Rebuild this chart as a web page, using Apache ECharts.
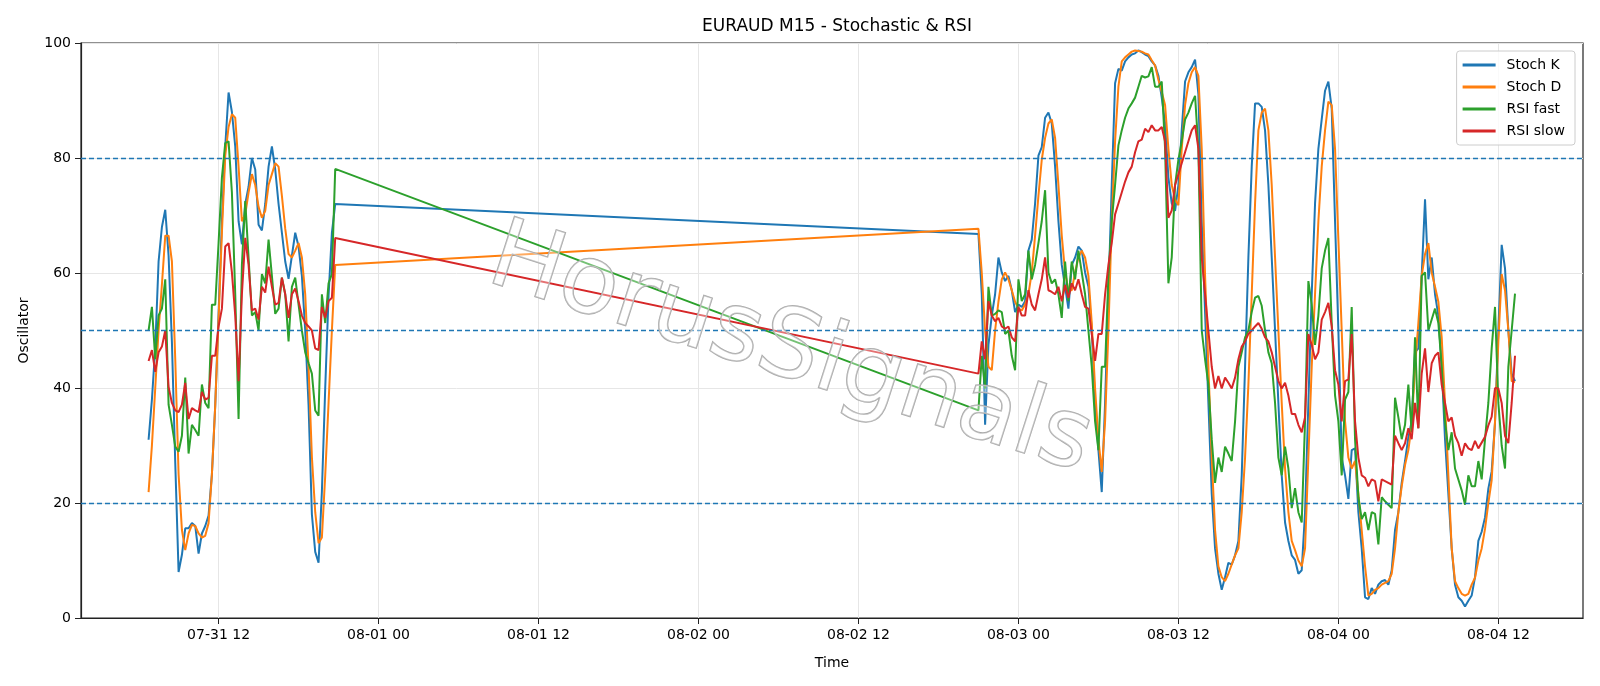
<!DOCTYPE html>
<html><head><meta charset="utf-8">
<script src="https://cdn.jsdelivr.net/npm/echarts@6/dist/echarts.min.js"></script>
<style>html,body{margin:0;padding:0;background:#fff}#c{width:1600px;height:686px}</style>
</head><body><div id="c"></div>
<script>
// Time is given in hours since 07-31 00:00, M15 bars (0.25 h)
const seg1Start = 6.75, seg1Count = 57;
const seg2Start = 69.0, seg2Count = 162;
const tickHours = [12, 24, 36, 48, 60, 72, 84, 96, 108];
const levelLines = [20, 50, 80];

const stochK1 = [31,38,47,62,68,71,63,48,27,8,11,15.6,15.6,16.5,16,11.2,14.7,16,17.8,25,37,53,69,82,91.4,88,82,69,65,72,75,80,78,68.4,67.4,72,78.5,82,78,72,67,62,59,63,67,64.6,59.5,50,37,18,11.5,9.6,22,40,56,67,72];
const stochD1 = [21.9,30,40,50,58,66.5,66.5,62,45,25,15.3,11.8,14.7,16.2,16,14.7,14,14.3,16.5,25,37,52,67,80.4,85.4,87.6,87,78.5,69,70.2,74,77.2,75.3,71.5,69.6,70.8,75.3,77.2,79.1,78.5,73.4,67.7,63.3,62.7,63.9,65.2,62.7,56.3,43.7,28,18.4,13,14,24.8,37.4,50,61.4];
const rsiFast1 = [50,54.1,45,52.6,53.8,58.9,37.1,33.6,29.8,28.9,31.7,41.8,28.6,33.6,32.7,31.7,40.6,37.4,36.5,54.5,54.5,65.2,76.6,82.6,82.9,74,56.3,34.6,61.4,72.5,62.7,52.6,53.2,50,59.8,58.2,65.8,59.5,52.9,53.8,59.2,56.3,48.1,57.6,59.2,54.5,50,46.2,44.3,42.5,36.1,35.2,56.3,51.3,58.2,59.8,78.1];
const rsiSlow1 = [44.7,46.6,42.8,46.2,47.2,50,40.2,37.4,36.1,35.8,37.1,40.9,34.6,36.5,36.1,35.8,39.3,38,38.3,45.6,45.6,50.7,53.8,64.6,65.2,60.1,52.6,41.2,56.3,66.1,61.4,53.5,53.8,51.9,57.6,56.6,61.1,57.6,54.5,54.8,59.2,56.3,52.2,56.3,57.3,55.1,52.6,51.3,50.7,50,46.9,46.6,54.1,52.2,55.1,55.7,66.1];

const stochK2 = [
66.8,56.3,33.6,47.5, 52.6,56.3,62.7,60.1, 58.6,59.5,57,53.2, 54.5,54.1,55.1,63.9,
65.8,72.1,80.4,81.9, 87,87.9,86,78.5, 69,61.4,57.6,53.8, 61.4,62.7,64.6,63.9,
60.1,57.6,50,37.4, 29.2,21.9,37.4,56.3, 75.3,93,95.5,95.2, 96.8,97.5,98,98.2,
98.7,98.4,98,97.7, 96.8,96.1,94.3,90.5, 86,76.6,72.1,70.8, 75.3,84.8,93.3,94.9,
95.8,97.1,91.1,69, 53.2,37.4,21.6,12.1, 7.7,4.9,7.1,9.6, 9.3,10.9,13.4,24.8,
43.7,62.7,78.5,89.5, 89.5,88.9,84.8,75.3, 62.7,50,37.4,24.8, 16.6,13.4,10.9,10.1,
7.7,8.3,18.4,37.4, 56.3,72.1,81.6,86.7, 91.7,93.3,88.6,69, 50,27.9,24.8,20.7,
29.2,29.5,18.4,12.1, 3.6,3.3,5.2,4.2, 5.8,6.4,6.6,5.8, 8.3,15.3,18.4,23.5,
27.3,31.4,34.2,46.2, 46.9,59.5,72.8,58.9, 62.7,56.3,52.6,43.7, 31.1,21.6,12.1,5.8,
3.6,3,2,3, 3.9,7.1,13.4,15, 17.5,22.5,25.5,34, 50,64.9,60.8,50, 42.5,41.2];
const stochD2 = [
67.7,60,50,43.7, 43.1,50,55,58.9, 60.1,58.9,57,55, 53.8,53.5,54.5,56.3,
60.1,66.5,73.4,79.7, 83.5,86,86.7,83.5, 75.3,66.5,60.1,57, 57,60.1,62.7,63.9,
62.7,59.5,51.3,39.9, 31.1,25.4,34.2,50, 69,82.9,92.4,96.8, 97.5,98,98.5,98.7,
98.6,98.5,98.2,98, 97,96.1,93.6,91.5, 89.2,81.6,75.3,72.8, 71.8,81.6,89.2,93,
94.9,95.8,94.3,81.6, 59.5,43.7,27.9,15.3, 9,7.1,6.4,7.7, 9.3,10.9,12.1,18.4,
27.9,40.6,56.3,72.1, 84.8,87.9,88.6,84.8, 75.3,62.7,50,37.4, 26,18.4,13.4,11.8,
10,9,12.1,27.9, 43.7,56.3,69,78.5, 84.8,89.8,89.2,81.6, 65.8,50,34.2,27.9,
26,27.3,21.6,15.3, 9,3.9,4.2,4.9, 5.2,5.8,6.1,6.4, 7.7,12.1,18.4,22.9,
26.6,29.2,33.6,43.7, 51.3,59.5,63.3,65.2, 60.1,57.6,55,48.8, 37.4,24.8,12.1,6.4,
5.2,4.2,3.9,4.2, 5.8,7,10,12.1, 15.5,20,24,34.2, 48,59.8,57,50, 41.2,41];
const rsiFast2 = [
36.1,45.6,39.9,57.6, 52.6,52.9,53.5,53.2, 49.4,50,45.6,43.1, 58.9,55.1,56.3,63.9,
58.9,61.4,65.2,69, 74.4,60.1,58.2,58.9, 56.3,52.2,62,55.1, 62,58.9,63.9,60.1,
56.3,50,43.7,34.2, 29.2,43.7,43.7,59.5, 69,75.3,82.2,84.8, 87,88.6,89.5,90.5,
92.4,94.3,94,94.2, 95.8,92.4,92.4,93.3, 81.6,58.2,62.7,75.3, 79.7,82.9,86.7,87.9,
89.5,90.8,81.6,50, 45,40.6,31.1,23.5, 27.9,25.4,29.8,28.6, 27.3,34.2,43.7,46.2,
48.8,50,53.2,55.7, 56,54.3,50,46.2, 44.3,37.4,27.9,24.8, 29.8,26,19.1,22.6,
18.4,16.6,34.2,58.6, 54.5,47.5,52.6,60.8, 63.9,66.1,51.3,38.7, 34.2,24.8,38,39.3,
54.1,31.1,21,17.2, 18.4,15.3,18.4,18.1, 12.8,21,20.3,19.7, 19.1,38.3,34.9,31.1,
33.6,40.6,32.3,48.8, 33,59.5,60.1,50, 51.9,53.8,51.3,43.7, 34.2,29.2,32.3,26,
24.1,22.2,19.7,24.8, 22.9,22.9,27.3,24.1, 31.1,37.4,46.9,54.1, 37.4,30,26,43.7, 50,56.4];
const rsiSlow2 = [
42.5,48.1,45,55.1, 52.6,51.6,52.2,50.7, 50.3,50.7,48.8,48.1, 54.1,52.6,52.6,57,
54.5,53.5,56.3,58.9, 62.7,57,56.7,56.3, 57.6,55.1,57.9,55.7, 58.2,57,58.9,56.3,
54.1,53.8,49.4,44.7, 49.4,49.4,56.3,61.4, 65.2,70.2,72.1,74, 75.9,77.5,78.5,81,
82.9,83.2,85.1,84.5, 85.7,84.8,84.8,85.4, 82.9,69.6,70.9,75.3, 77.2,79.1,81,82.9,
84.8,85.7,81.6,62.7, 56.3,50,43.7,39.9, 42.1,39.9,41.8,40.9, 39.9,41.8,45,47.2,
48.1,49.4,50,50.7, 51.3,50.3,48.8,48.1, 46.2,43.7,41.2,39.9, 40.9,38.7,35.5,35.5,
33.6,32.3,34.9,49.4, 47.5,45,46.2,51.9, 53.2,54.8,50.7,43.1, 40.6,34.2,41.2,41.5,
49.4,34.2,27.9,24.8, 24.4,22.9,24.1,23.8, 20.3,24.1,23.8,23.5, 23.2,31.7,30.4,29.2,
30.4,33,31.1,37.4, 33,42.5,46.9,39.3, 44.3,45.6,46.2,40.6, 37.4,34.2,34.9,31.7,
30.4,28.2,30.4,29.5, 29.2,30.8,29.5,30.5, 31.5,33.5,35,40, 39.9,37.4,31.7,30.4, 37.4,45.6];

function times(start, count){const t=[];for(let i=0;i<count;i++)t.push(start+0.25*i);return t;}
const hours = times(seg1Start, seg1Count).concat(times(seg2Start, seg2Count));
function pair(a,b){const v=a.concat(b);return hours.map((h,i)=>[h,v[i]]);}

function fmt(h){
  const day = Math.floor(h/24), hh = Math.round(h - day*24);
  const d = 31 + day;
  const md = d <= 31 ? '07-' + d : '08-' + String(d-31).padStart(2,'0');
  return md + ' ' + String(hh).padStart(2,'0');
}

const chart = echarts.init(document.getElementById('c'));
const font = 'DejaVu Sans';
const mk = (name, color, data, extra) => Object.assign({
  name, type:'line', data, symbol:'none', showSymbol:false, animation:false,
  lineStyle:{color, width:2}, itemStyle:{color}, z:3
}, extra||{});

chart.setOption({
  animation:false,
  textStyle:{fontFamily:font},
  title:{text:'EURAUD M15 - Stochastic & RSI', left:832, top:13, textAlign:'center',
    textStyle:{fontSize:17, fontWeight:'normal', color:'#000', fontFamily:font}},
  grid:{left:81, right:17, top:43, bottom:68, show:true, borderColor:'#222', borderWidth:1.2, backgroundColor:'transparent'},
  legend:{orient:'vertical', right:25, top:51, itemWidth:33, itemHeight:3, itemGap:8,
    padding:[7,10,7,6], borderColor:'#ccc', borderWidth:1, borderRadius:3, backgroundColor:'rgba(255,255,255,0.8)',
    icon:'rect', textStyle:{fontSize:14, color:'#000', fontFamily:font, padding:[0,0,0,6]},
    data:['Stoch K','Stoch D','RSI fast','RSI slow']},
  xAxis:{type:'value', min:1.68, max:114.35, name:'Time', nameLocation:'middle', nameGap:38,
    nameTextStyle:{fontSize:14, color:'#000'},
    axisLine:{lineStyle:{color:'#222', width:1.2}},
    axisTick:{customValues:tickHours, length:6, lineStyle:{color:'#222'}},
    axisLabel:{customValues:tickHours, formatter:v=>fmt(v), fontSize:14, color:'#000', margin:10},
    splitLine:{show:false}},
  yAxis:{type:'value', min:0, max:100, interval:20, name:'Oscillator', nameLocation:'middle', nameGap:50,
    nameTextStyle:{fontSize:14, color:'#000'},
    axisLine:{show:true, lineStyle:{color:'#222', width:1.2}},
    axisTick:{show:true, length:6, lineStyle:{color:'#222'}},
    axisLabel:{fontSize:14, color:'#000', margin:10},
    splitLine:{show:true, lineStyle:{color:'#e6e6e6', width:1}}},
  graphic:[{type:'text', rotation:-0.31, z:10, silent:true,
    x:790, y:352, style:{text:'HorusSignals', x:0, y:0, align:'center', verticalAlign:'middle',
      font:'96px "DejaVu Sans"', fill:'rgba(255,255,255,0.35)', stroke:'#a8a8a8', lineWidth:1.5,
      shadowColor:'rgba(0,0,0,0.3)', shadowBlur:3, shadowOffsetX:4, shadowOffsetY:5}}],
  series:[
    mk('Stoch K','#1f77b4', pair(stochK1, stochK2), {
      markLine:{silent:true, symbol:'none', label:{show:false}, animation:false,
        lineStyle:{color:'#e6e6e6', type:'solid', width:1}, z:1,
        data:tickHours.map(h=>({xAxis:h}))}}),
    mk('Stoch D','#ff7f0e', pair(stochD1, stochD2), {
      markLine:{silent:true, symbol:'none', label:{show:false}, animation:false,
        lineStyle:{color:'#1f77b4', type:[5,3], width:1.3},
        data:levelLines.map(v=>({yAxis:v}))}}),
    mk('RSI fast','#2ca02c', pair(rsiFast1, rsiFast2)),
    mk('RSI slow','#d62728', pair(rsiSlow1, rsiSlow2))
  ]
});
</script></body></html>
